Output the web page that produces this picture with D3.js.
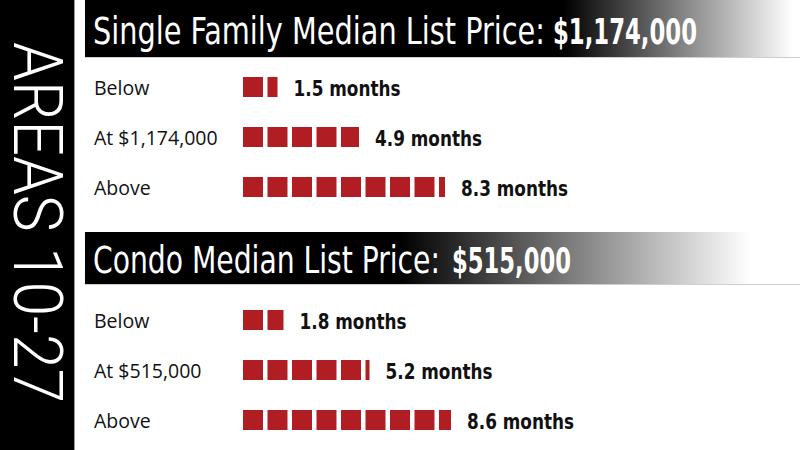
<!DOCTYPE html>
<html><head><meta charset="utf-8">
<script src="https://cdn.jsdelivr.net/npm/d3@7"></script>
<style>html,body{margin:0;padding:0;background:#fff;}svg{display:block;}</style>
</head><body>
<svg id="chart" width="800" height="450"></svg>
<script>
const sideTitle = "AREAS 10-27";
const sectionTitles = ["Single Family Median List Price:", "Condo Median List Price:"];
const sectionPrices = ["$1,174,000", "$515,000"];
const sfCategories = ["Below", "At $1,174,000", "Above"];
const sfMonths = [1.5, 4.9, 8.3];
const condoCategories = ["Below", "At $515,000", "Above"];
const condoMonths = [1.8, 5.2, 8.6];
const unitLabel = "months";

const svg = d3.select("#chart");
const defs = svg.append("defs");
const red = "#b01e24";
const condensed = "'DejaVu Sans Condensed','Liberation Sans Narrow',sans-serif";

// left panel
svg.append("rect").attr("x",0).attr("y",0).attr("width",74).attr("height",450).attr("fill","#000");
svg.append("line").attr("x1",74.5).attr("x2",74.5).attr("y1",0).attr("y2",450).attr("stroke","#9a9a9a").attr("stroke-width",1);
svg.append("text")
  .attr("transform","translate(14,42) rotate(90)")
  .attr("font-family","'Roboto','DejaVu Sans Condensed',sans-serif")
  .attr("font-weight",300)
  .attr("font-size",68)
  .attr("fill","#fff")
  .attr("textLength",361)
  .attr("lengthAdjust","spacingAndGlyphs")
  .text(sideTitle);

const sections = [
  {title: sectionTitles[0], price: sectionPrices[0], cats: sfCategories, vals: sfMonths,
   top: 0, h: 57, baseline: 44, g0: 0.67, g1: 0.99, rows: [87, 187],
   titleLen: 452, priceX: 553, priceLen: 144},
  {title: sectionTitles[1], price: sectionPrices[1], cats: condoCategories, vals: condoMonths,
   top: 232, h: 52, baseline: 273, g0: 0.44, g1: 0.93, rows: [320, 420],
   titleLen: 347, priceX: 452, priceLen: 119}
];

const pitch = 24.5, sq = 20, barX0 = 243;
const x = d3.scaleLinear().domain([0, 1]).range([0, pitch]);

sections.forEach((s, si) => {
  const gid = "grad" + si;
  const grad = defs.append("linearGradient").attr("id", gid).attr("x1","0").attr("x2","1").attr("y1","0").attr("y2","0");
  grad.append("stop").attr("offset", s.g0).attr("stop-color","#000");
  grad.append("stop").attr("offset", s.g1).attr("stop-color","#fff");
  svg.append("rect").attr("x",85).attr("y",s.top).attr("width",715).attr("height",s.h).attr("fill",`url(#${gid})`);
  svg.append("line").attr("x1",85).attr("x2",800).attr("y1",s.top+s.h+0.5).attr("y2",s.top+s.h+0.5).attr("stroke","#cfcfcf");

  const t = svg.append("text").attr("y",s.baseline).attr("fill","#fff").attr("font-family", condensed);
  t.append("tspan").attr("x",93).attr("font-size",37)
    .attr("textLength", s.titleLen).attr("lengthAdjust","spacingAndGlyphs")
    .text(s.title);
  t.append("tspan").attr("x",s.priceX).attr("font-size",36).attr("font-weight","bold")
    .attr("textLength", s.priceLen).attr("lengthAdjust","spacingAndGlyphs")
    .text(s.price);

  const y = d3.scalePoint().domain(s.cats).range(s.rows);

  s.cats.forEach((c, i) => {
    const v = s.vals[i];
    const cy = y(c);
    svg.append("text").attr("x",94).attr("y",cy+7.5)
      .attr("font-family","'Open Sans',sans-serif").attr("font-size",19.5).attr("fill","#111")
      .text(c);
    const units = d3.range(Math.ceil(v)).map(k => ({k, frac: Math.min(1, v - k)}));
    svg.append("g").selectAll("rect").data(units).join("rect")
      .attr("x", d => barX0 + x(d.k))
      .attr("y", cy - sq/2)
      .attr("width", d => d.frac * sq)
      .attr("height", sq)
      .attr("fill", red);
    const last = units[units.length-1];
    const endX = barX0 + x(last.k) + last.frac * sq;
    svg.append("text").attr("x", endX + 16).attr("y", cy + 8.5)
      .attr("font-family", condensed)
      .attr("font-weight","bold").attr("font-size",22).attr("fill","#111")
      .attr("textLength",107).attr("lengthAdjust","spacingAndGlyphs")
      .text(`${v.toFixed(1)} ${unitLabel}`);
  });
});
</script>
</body></html>
